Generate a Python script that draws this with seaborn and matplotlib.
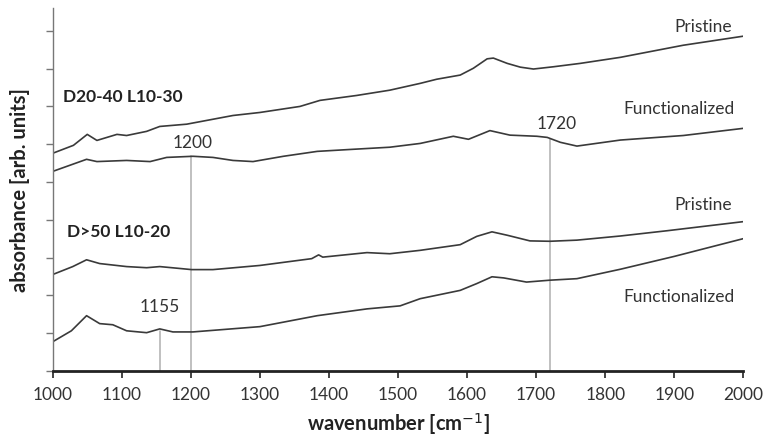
import numpy as np
import pandas as pd
import matplotlib
matplotlib.use("Agg")
import matplotlib.pyplot as plt
import seaborn as sns

# wavenumber / absorbance pairs (arbitrary offset units)
d2040_pristine_x = [1000, 1030, 1050, 1064, 1093, 1107, 1136, 1155, 1194, 1261, 1300, 1358, 1387,
                    1440, 1488, 1532, 1556, 1590, 1609, 1629, 1638, 1658, 1677, 1696, 1725, 1764,
                    1822, 1913, 2000]
d2040_pristine_y = [5.76, 5.97, 6.26, 6.10, 6.26, 6.23, 6.34, 6.47, 6.53, 6.76, 6.84, 7.00, 7.16,
                    7.29, 7.43, 7.61, 7.72, 7.83, 8.01, 8.26, 8.28, 8.14, 8.04, 7.99, 8.05, 8.14,
                    8.30, 8.62, 8.86]

d2040_func_x = [1000, 1049, 1064, 1107, 1141, 1165, 1203, 1232, 1261, 1290, 1334, 1383, 1430,
                1488, 1532, 1580, 1602, 1633, 1662, 1701, 1716, 1735, 1759, 1822, 1913, 2000]
d2040_func_y = [5.28, 5.60, 5.54, 5.57, 5.54, 5.65, 5.68, 5.65, 5.57, 5.54, 5.68, 5.81, 5.86,
                5.92, 6.02, 6.21, 6.13, 6.36, 6.24, 6.21, 6.18, 6.05, 5.95, 6.11, 6.23, 6.42]

d50_pristine_x = [1000, 1029, 1049, 1068, 1107, 1136, 1155, 1184, 1201, 1232, 1300, 1375, 1385,
                  1391, 1455, 1488, 1532, 1590, 1614, 1636, 1658, 1691, 1720, 1759, 1822, 1890, 2000]
d50_pristine_y = [2.55, 2.76, 2.94, 2.84, 2.76, 2.73, 2.76, 2.71, 2.68, 2.68, 2.79, 2.97, 3.07,
                  3.01, 3.13, 3.10, 3.19, 3.34, 3.56, 3.68, 3.59, 3.44, 3.43, 3.46, 3.57, 3.71, 3.95]

d50_func_x = [1000, 1027, 1049, 1068, 1087, 1107, 1136, 1155, 1174, 1203, 1300, 1383, 1455,
              1503, 1532, 1590, 1614, 1636, 1653, 1686, 1720, 1759, 1822, 1900, 2000]
d50_func_y = [0.77, 1.06, 1.46, 1.25, 1.22, 1.06, 1.01, 1.11, 1.03, 1.03, 1.17, 1.46, 1.64,
              1.72, 1.91, 2.13, 2.31, 2.49, 2.46, 2.35, 2.40, 2.44, 2.69, 3.03, 3.50]

# marked bands: position and height where the marker meets its curve
band_pos = [1155, 1200, 1720]
band_top = [1.06, 5.68, 6.15]
band_labels = ["1155", "1200", "1720"]
band_label_xy = [(1155, 1.72), (1203, 6.07), (1730, 6.55)]

sns.set_style("white")
plt.rcParams['font.family'] = ['Lato', 'DejaVu Sans']

fig = plt.figure(figsize=(7.64, 4.39), dpi=100)
ax = fig.add_axes([0.069, 0.153, 0.904, 0.826])

curves = [(d2040_pristine_x, d2040_pristine_y), (d2040_func_x, d2040_func_y),
          (d50_pristine_x, d50_pristine_y), (d50_func_x, d50_func_y)]
for cx, cy in curves:
    sns.lineplot(x=cx, y=cy, ax=ax, color="#3a3a3a", linewidth=1.2, estimator=None)

for pos, top in zip(band_pos, band_top):
    ax.plot([pos, pos], [0, top], color="#b5b5b5", linewidth=1.2, zorder=1)

for lab, (lx, ly) in zip(band_labels, band_label_xy):
    ax.text(lx, ly, lab, ha="center", va="center", fontsize=12.5, color="#333333")

ax.text(1015, 7.27, "D20-40 L10-30", fontsize=12.5, fontweight="bold", va="center", color="#222222")
ax.text(1020, 3.69, "D>50 L10-20", fontsize=12.5, fontweight="bold", va="center", color="#222222")
ax.text(1984, 9.12, "Pristine", fontsize=12.5, ha="right", va="center", color="#333333")
ax.text(1988, 6.95, "Functionalized", fontsize=12.5, ha="right", va="center", color="#333333")
ax.text(1984, 4.43, "Pristine", fontsize=12.5, ha="right", va="center", color="#333333")
ax.text(1988, 1.99, "Functionalized", fontsize=12.5, ha="right", va="center", color="#333333")

ax.set_xlim(1000, 2000)
ax.set_ylim(0, 9.6)
ax.set_xticks(np.arange(1000, 2001, 100))
ax.set_yticks(np.arange(0, 10, 1))
ax.set_yticklabels([])
ax.tick_params(axis="x", direction="out", length=5, width=1.2, color="#222222",
               labelsize=12.5, labelcolor="#333333", pad=6, bottom=True)
ax.tick_params(axis="y", direction="out", length=5, width=1, color="#777777", left=True)

for side in ["top", "right"]:
    ax.spines[side].set_visible(False)
ax.spines["bottom"].set_color("#222222")
ax.spines["bottom"].set_linewidth(2)
ax.spines["left"].set_color("#777777")
ax.spines["left"].set_linewidth(1)

ax.set_xlabel("wavenumber [cm$^{-1}$]", fontsize=14.5, fontweight="bold", color="#222222", labelpad=6)
ax.set_ylabel("absorbance [arb. units]", fontsize=14.5, fontweight="bold", color="#222222", labelpad=8)

fig.savefig("out.png", dpi=100)
